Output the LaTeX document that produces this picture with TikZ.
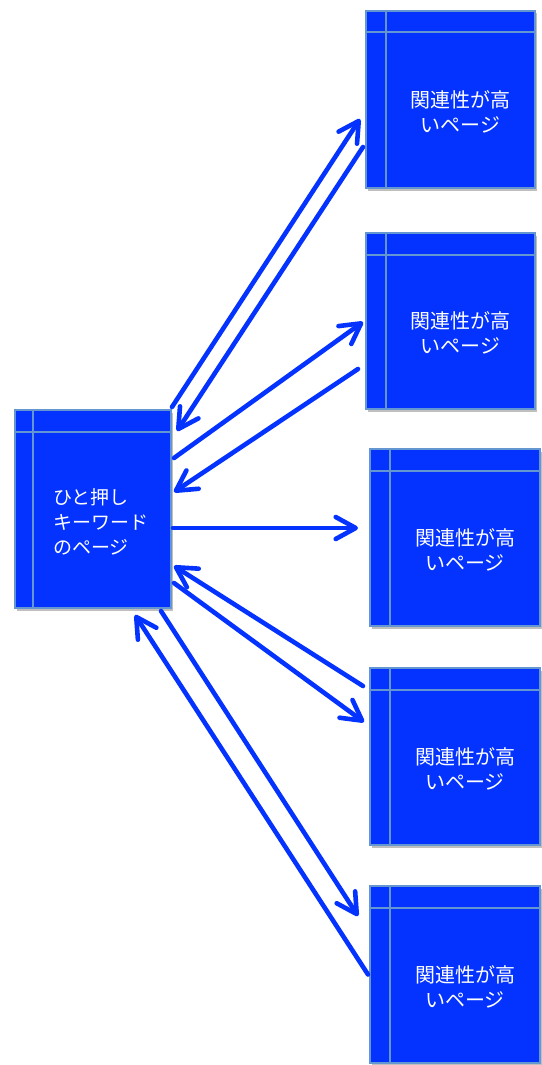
\documentclass[tikz,border=0pt]{standalone}
\usepackage{fontspec}
\newfontfamily\jp{Noto Sans CJK JP}
\usetikzlibrary{arrows.meta,calc,shadows}
\definecolor{boxblue}{RGB}{4,51,255}
\definecolor{edgeblue}{RGB}{100,150,210}
\begin{document}
\begin{tikzpicture}[x=1pt,y=-1pt,
  pagebox/.style={rectangle, fill=boxblue, draw=edgeblue, line width=2pt, inner sep=0pt,
    drop shadow={shadow xshift=1.5pt, shadow yshift=-2.5pt, opacity=0.25, fill=black}},
  rulerline/.style={draw=edgeblue, line width=2pt},
  pagetext/.style={text=white, inner sep=0pt, font=\jp\fontsize{20}{25}\selectfont, align=center},
  link/.style={draw=boxblue, line width=4.6pt, line cap=round,
    -{Straight Barb[length=20pt,width=22pt,round]}}]
\useasboundingbox (0,0) rectangle (541,1065);

% left page
\node[pagebox, minimum width=156pt, minimum height=198pt] (L) at (93,509) {};
\draw[rulerline] ($(L.north west)+(19,0)$) -- ($(L.south west)+(19,0)$);
\draw[rulerline] ($(L.north west)+(0,23)$) -- ($(L.north east)+(0,23)$);
\node[pagetext, align=left, anchor=west, font=\jp\fontsize{19}{25}\selectfont] (Lt) at ($(L.west)+(39,13)$) {ひと押し\\キーワード\\のページ};

% right pages
\node[pagebox, minimum width=169pt, minimum height=177pt] (R1) at (450.5,99.5) {};
\node[pagebox, minimum width=169pt, minimum height=176pt] (R2) at (450.5,321) {};
\node[pagebox, minimum width=170pt, minimum height=177pt] (R3) at (455,537.5) {};
\node[pagebox, minimum width=170pt, minimum height=177pt] (R4) at (455,756.5) {};
\node[pagebox, minimum width=170pt, minimum height=177pt] (R5) at (455,974.5) {};
\foreach \r in {R1,R2,R3,R4,R5}{
  \draw[rulerline] ($(\r.north west)+(21,0)$) -- ($(\r.south west)+(21,0)$);
  \draw[rulerline] ($(\r.north west)+(0,22.5)$) -- ($(\r.north east)+(0,22.5)$);
  \node[pagetext] (\r t) at ($(\r.center)+(10,12)$) {関連性が高\\いページ};
}

% connectors
\draw[link] ($(L.north east)+(0,-2)$) -- ($(R1.west)+(-5,19.5)$);
\draw[link] ($(R1.west)+(-2,47.5)$) -- ($(L.north east)+(5,22)$);
\draw[link] ($(L.north east)+(2,49)$) -- ($(R2.west)+(-2,1)$);
\draw[link] ($(R2.west)+(-7,48)$) -- ($(L.north east)+(2,83)$);
\draw[link] ($(L.east)+(1,19)$) -- ($(R3.west)+(-11,-9.5)$);
\draw[link] ($(R4.west)+(-6,-70.5)$) -- ($(L.east)+(2,57)$);
\draw[link] ($(L.east)+(2,74)$) -- ($(R4.west)+(-5,-34.5)$);
\draw[link] ($(L.south east)+(-11,2)$) -- ($(R5.west)+(-11,-58.5)$);
\draw[link] ($(R5.west)+(-1,0)$) -- ($(L.south east)+(-37,6)$);
\end{tikzpicture}
\end{document}
